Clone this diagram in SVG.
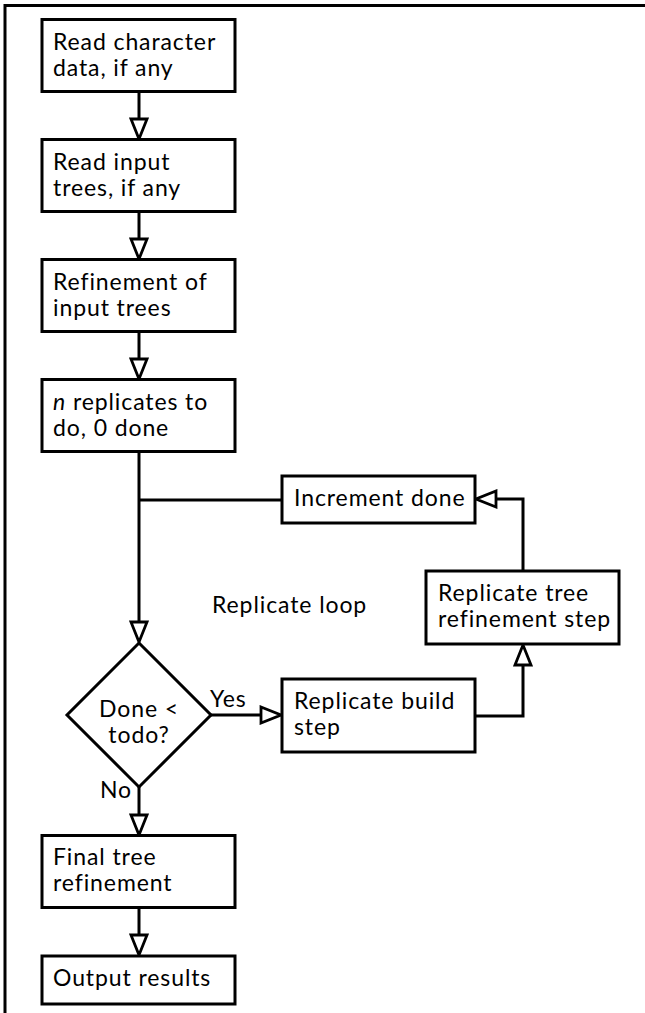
<svg xmlns="http://www.w3.org/2000/svg" width="645" height="1013" viewBox="0 0 645 1013">
  <style>
    .box { fill: #fff; stroke: #000; stroke-width: 3; }
    .wire { fill: none; stroke: #000; stroke-width: 3; }
    .frame { fill: none; stroke: #000; stroke-width: 3; }
    text { font-family: Lato, "Liberation Sans", sans-serif; font-size: 23px; letter-spacing: 0.9px; fill: #000; }
  </style>
  <defs>
    <!-- open triangular arrowhead; the path end sits at the triangle base -->
    <marker id="open" markerUnits="userSpaceOnUse" viewBox="-2 -2 24 20" markerWidth="24" markerHeight="20" refX="0" refY="8" orient="auto">
      <path d="M0,0 L20,8 L0,16 Z" fill="#fff" stroke="#000" stroke-width="2.8" stroke-linejoin="miter"/>
    </marker>
  </defs>

  <!-- page frame (top and left edges) -->
  <path class="frame" d="M5,1013 V5.5 H645"/>

  <g id="connectors">
    <path class="wire" d="M139,91 V119" marker-end="url(#open)"/>
    <path class="wire" d="M139,211 V239" marker-end="url(#open)"/>
    <path class="wire" d="M139,331 V359" marker-end="url(#open)"/>
    <path class="wire" d="M139,451 V622" marker-end="url(#open)"/>
    <path class="wire" d="M139,500 H282"/>
    <path class="wire" d="M211,715 H261" marker-end="url(#open)"/>
    <path class="wire" d="M475,716 H523 V665" marker-end="url(#open)"/>
    <path class="wire" d="M523,571 V499 H496" marker-end="url(#open)"/>
    <path class="wire" d="M139,787 V815" marker-end="url(#open)"/>
    <path class="wire" d="M139,908 V935" marker-end="url(#open)"/>
  </g>

  <g id="read-char">
    <rect class="box" x="42" y="19.5" width="193" height="72"/>
    <text x="53" y="50">Read character</text>
    <text x="53" y="76">data, if any</text>
  </g>
  <g id="read-trees">
    <rect class="box" x="42" y="139.5" width="193" height="72"/>
    <text x="53" y="170">Read input</text>
    <text x="53" y="196">trees, if any</text>
  </g>
  <g id="refine-input">
    <rect class="box" x="42" y="259.5" width="193" height="72"/>
    <text x="53" y="290">Refinement of</text>
    <text x="53" y="316">input trees</text>
  </g>
  <g id="replicates-init">
    <rect class="box" x="42" y="379.5" width="193" height="72"/>
    <text x="53" y="410"><tspan font-style="italic">n</tspan> replicates to</text>
    <text x="53" y="436">do, 0 done</text>
  </g>
  <g id="increment">
    <rect class="box" x="282" y="476" width="193" height="47"/>
    <text x="294" y="506">Increment done</text>
  </g>
  <g id="loop-label">
    <text x="212" y="613">Replicate loop</text>
  </g>
  <g id="tree-refine-step">
    <rect class="box" x="426" y="571" width="193" height="73"/>
    <text x="438" y="600.5">Replicate tree</text>
    <text x="438" y="626.5">refinement step</text>
  </g>
  <g id="decision">
    <path class="box" d="M139,643 L211,715 L139,787 L67,715 Z"/>
    <text x="139" y="717" text-anchor="middle">Done &lt;</text>
    <text x="139" y="743" text-anchor="middle">todo?</text>
    <text x="210" y="707">Yes</text>
    <text x="100" y="798">No</text>
  </g>
  <g id="build-step">
    <rect class="box" x="282" y="679" width="193" height="73"/>
    <text x="294" y="708.5">Replicate build</text>
    <text x="294" y="734.5">step</text>
  </g>
  <g id="final-refine">
    <rect class="box" x="42" y="835.5" width="193" height="72"/>
    <text x="53" y="864.5">Final tree</text>
    <text x="53" y="890.5">refinement</text>
  </g>
  <g id="output">
    <rect class="box" x="42" y="956" width="193" height="48"/>
    <text x="53" y="986">Output results</text>
  </g>
</svg>
